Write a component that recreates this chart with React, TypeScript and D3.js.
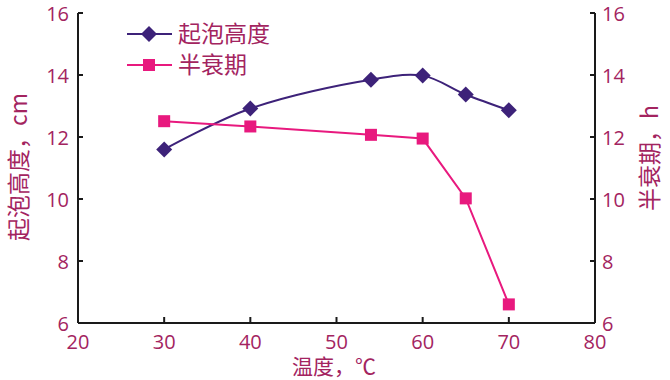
import React from "react";
import * as d3 from "d3";

const temps = [30, 40, 54, 60, 65, 70];
const foamHeight = [11.6, 12.92, 13.85, 13.98, 13.37, 12.86];
const halfLife = [12.51, 12.34, 12.07, 11.95, 10.02, 6.6];
const xTicks = [20, 30, 40, 50, 60, 70, 80];
const yTicks = [6, 8, 10, 12, 14, 16];
const seriesNames = ["起泡高度", "半衰期"];

const W = 670, H = 380;
const M = { left: 78, right: 595, top: 13, bottom: 323 };
const TEXT = "#a3245f";
const PURPLE = "#3d2279";
const PINK = "#e8197e";
const NUM_FONT = "'Open Sans', 'Noto Sans', sans-serif";
const CJK_FONT = "'Noto Sans CJK SC', sans-serif";

export default function App() {
  const x = d3.scaleLinear().domain([20, 80]).range([M.left, M.right]);
  const yL = d3.scaleLinear().domain([6, 16]).range([M.bottom, M.top]);
  const yR = d3.scaleLinear().domain([6, 16]).range([M.bottom, M.top]);

  const foamPts: [number, number][] = temps.map((t, i) => [x(t), yL(foamHeight[i])]);
  const halfPts: [number, number][] = temps.map((t, i) => [x(t), yR(halfLife[i])]);

  const foamLine = d3.line().curve(d3.curveCatmullRom.alpha(0.5))(foamPts) || "";
  const halfLine = d3.line()(halfPts) || "";

  const diamond = (cx: number, cy: number, r: number, key: any) => (
    <path key={key} d={`M${cx},${cy - r}L${cx + r},${cy}L${cx},${cy + r}L${cx - r},${cy}Z`} fill={PURPLE} />
  );
  const square = (cx: number, cy: number, s: number, key: any) => (
    <rect key={key} x={cx - s / 2} y={cy - s / 2} width={s} height={s} fill={PINK} />
  );

  return (
    <svg width={W} height={H} style={{ position: "absolute", left: 0, top: 0, background: "#fff" }}>
      {/* axes */}
      <g stroke="#1a1a1a" strokeWidth={2} fill="none">
        <line x1={M.left} y1={M.top} x2={M.left} y2={M.bottom} />
        <line x1={M.right} y1={M.top} x2={M.right} y2={M.bottom} />
        <line x1={M.left} y1={M.bottom} x2={M.right} y2={M.bottom} />
        {yTicks.map((t) => (
          <line key={"l" + t} x1={M.left} x2={M.left + 5} y1={yL(t)} y2={yL(t)} />
        ))}
        {yTicks.map((t) => (
          <line key={"r" + t} x1={M.right - 5} x2={M.right} y1={yR(t)} y2={yR(t)} />
        ))}
        {xTicks.map((t) => (
          <line key={"x" + t} x1={x(t)} x2={x(t)} y1={M.bottom} y2={M.bottom - 6} />
        ))}
      </g>
      {/* tick labels */}
      <g fill={TEXT} fontFamily={NUM_FONT} fontSize={20}>
        {yTicks.map((t) => (
          <text key={"lt" + t} x={M.left - 9} y={yL(t)} textAnchor="end" dominantBaseline="central">{t}</text>
        ))}
        {yTicks.map((t) => (
          <text key={"rt" + t} x={M.right + 7} y={yR(t)} textAnchor="start" dominantBaseline="central">{t}</text>
        ))}
        {xTicks.map((t) => (
          <text key={"xt" + t} x={x(t)} y={M.bottom + 26} textAnchor="middle">{t}</text>
        ))}
      </g>
      {/* axis titles */}
      <g fill={TEXT} fontFamily={CJK_FONT} fontSize={21}>
        <text x={334} y={374} textAnchor="middle">温度，℃</text>
        <text transform={`translate(27,167) rotate(-90)`} textAnchor="middle" fontSize={23}>起泡高度，cm</text>
        <text transform={`translate(658,158) rotate(-90)`} textAnchor="middle" fontSize={23}>半衰期，h</text>
      </g>
      {/* series */}
      <path d={foamLine} fill="none" stroke={PURPLE} strokeWidth={2} />
      <path d={halfLine} fill="none" stroke={PINK} strokeWidth={2} />
      {foamPts.map((p, i) => diamond(p[0], p[1], 8, "d" + i))}
      {halfPts.map((p, i) => square(p[0], p[1], 12, "s" + i))}
      {/* legend */}
      <line x1={127} x2={172} y1={34} y2={34} stroke={PURPLE} strokeWidth={2} />
      {diamond(149, 34, 8, "ld")}
      <text x={178} y={42} fill={TEXT} fontFamily={CJK_FONT} fontSize={23}>{seriesNames[0]}</text>
      <line x1={127} x2={172} y1={65} y2={65} stroke={PINK} strokeWidth={2} />
      {square(149, 65, 12, "ls")}
      <text x={178} y={73} fill={TEXT} fontFamily={CJK_FONT} fontSize={23}>{seriesNames[1]}</text>
    </svg>
  );
}
